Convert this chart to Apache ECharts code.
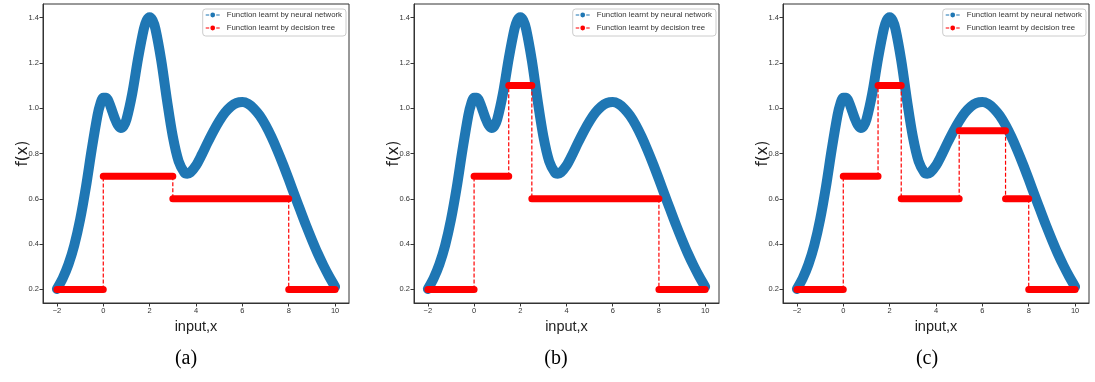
<!DOCTYPE html>
<html>
<head>
<meta charset="utf-8">
<script src="https://cdn.jsdelivr.net/npm/echarts@6/dist/echarts.min.js"></script>
<style>html,body{margin:0;padding:0;background:#fff;}#chart{width:1095px;height:382px;}</style>
</head>
<body>
<div id="chart"></div>
<script>
// ---- data ----
const xs = [-2,-1.75,-1.5,-1.25,-1,-0.75,-0.5,-0.25,-0.125,0,0.125,0.25,0.375,0.5,0.625,0.75,0.875,1,1.25,1.5,1.75,1.875,2,2.125,2.25,2.5,2.75,3,3.25,3.5,3.625,3.75,4,4.25,4.5,4.75,5,5.25,5.5,5.75,6,6.25,6.5,6.75,7,7.25,7.5,7.75,8,8.25,8.5,8.75,9,9.25,9.5,9.75,10];
const nnValues = [0.202,0.249,0.311,0.395,0.508,0.651,0.817,0.968,1.019,1.046,1.046,1.025,0.990,0.954,0.926,0.913,0.921,0.950,1.065,1.219,1.350,1.388,1.402,1.388,1.350,1.211,1.034,0.875,0.766,0.716,0.711,0.716,0.747,0.795,0.848,0.898,0.943,0.980,1.007,1.023,1.027,1.019,0.998,0.967,0.925,0.874,0.816,0.753,0.686,0.617,0.549,0.482,0.419,0.359,0.305,0.256,0.212];

const treeAEdges = [-2,0,3,8,10];
const treeALevels = [0.2,0.7,0.6,0.2];
const treeBEdges = [-2,0,1.5,2.5,8,10];
const treeBLevels = [0.2,0.7,1.1,0.6,0.2];
const treeCEdges = [-2,0,1.5,2.5,5,7,8,10];
const treeCLevels = [0.2,0.7,1.1,0.6,0.9,0.6,0.2];

const xTicks = [-2,0,2,4,6,8,10];
const yTicks = [0.2,0.4,0.6,0.8,1.0,1.2,1.4];
const captions = ['(a)','(b)','(c)'];

const NN = 'Function learnt by neural network';
const DT = 'Function learnt by decision tree';

// ---- layout ----
const grids = [
  {left:43, top:4, width:306, height:299},
  {left:414, top:4, width:305, height:299},
  {left:783, top:4, width:306, height:299}
];
const legendRights = [749, 379, 9];
const captionX = [186, 556, 927];
const trees = [[treeAEdges,treeALevels],[treeBEdges,treeBLevels],[treeCEdges,treeCLevels]];

const BLUE = '#1f77b4';
const RED = '#ff0000';
const iconPath = 'path://M0,3.2H5V4.8H0Z M6.6,4A3.4,3.4 0 1,1 13.4,4A3.4,3.4 0 1,1 6.6,4Z M15,3.2H20V4.8H15Z';

function horizData(edges, levels){
  const d = [];
  for (let i=0;i<levels.length;i++){
    d.push([edges[i], levels[i]]);
    d.push([edges[i+1], levels[i]]);
    d.push([edges[i+1], '-']);
  }
  return d;
}
function vertData(edges, levels){
  const d = [];
  for (let i=1;i<levels.length;i++){
    d.push([edges[i], levels[i-1]]);
    d.push([edges[i], levels[i]]);
    d.push([edges[i], '-']);
  }
  return d;
}
const nnData = xs.map((x,i)=>[x, nnValues[i]]);

const option = {
  animation:false,
  backgroundColor:'#fff',
  grid: grids.map(g=>Object.assign({show:true, borderColor:'#333', borderWidth:1, backgroundColor:'transparent'}, g)),
  xAxis: grids.map((g,i)=>({
    type:'value', gridIndex:i, min:-2.6, max:10.6,
    name:'input,x', nameLocation:'middle', nameGap:16, nameMoveOverlap:false,
    nameTextStyle:{fontSize:14.5, fontFamily:'Liberation Sans', color:'#222'},
    axisLine:{show:true, onZero:false, lineStyle:{color:'#333', width:1}},
    axisTick:{show:true, length:3.5, customValues:xTicks, lineStyle:{color:'#333'}},
    axisLabel:{customValues:xTicks, fontSize:7.5, fontFamily:'Liberation Sans', color:'#333', margin:4,
      formatter:v=> v<0 ? '\u2212'+Math.abs(v) : String(v)},
    splitLine:{show:false}
  })),
  yAxis: grids.map((g,i)=>({
    type:'value', gridIndex:i, min:0.14, max:1.46,
    name:'f(x)', nameLocation:'middle', nameGap:12, nameMoveOverlap:false,
    nameTextStyle:{fontSize:15, fontFamily:'DejaVu Sans', color:'#222'},
    axisLine:{show:true, onZero:false, lineStyle:{color:'#333', width:1}},
    axisTick:{show:true, length:3.5, customValues:yTicks, lineStyle:{color:'#333'}},
    axisLabel:{customValues:yTicks, fontSize:7.5, fontFamily:'Liberation Sans', color:'#333', margin:4,
      formatter:v=> Number(v).toFixed(1)},
    splitLine:{show:false}
  })),
  legend: grids.map((g,i)=>({
    orient:'vertical', right:legendRights[i], top:9, align:'left',
    padding:[2,4,4,3], itemGap:5, itemWidth:14, itemHeight:6,
    backgroundColor:'#fff', borderColor:'#cccccc', borderWidth:1, borderRadius:3,
    selectedMode:false,
    textStyle:{fontSize:7.8, fontFamily:'Liberation Sans', color:'#333', padding:[0,0,0,2]},
    data:[
      {name:NN, icon:iconPath, itemStyle:{color:BLUE, borderWidth:0}},
      {name:DT, icon:iconPath, itemStyle:{color:RED, borderWidth:0}}
    ]
  })),
  graphic: captions.map((c,i)=>({
    type:'text', x:captionX[i], y:359,
    style:{text:c, font:'20px "Liberation Serif"', fill:'#000', align:'center', verticalAlign:'middle'}
  })),
  series: []
};

grids.forEach((g,i)=>{
  option.series.push({
    type:'line', name:NN, xAxisIndex:i, yAxisIndex:i, data:nnData,
    smooth:0.3, showSymbol:false, z:2,
    lineStyle:{color:BLUE, width:10, cap:'round', join:'round'},
    itemStyle:{color:BLUE}
  });
  option.series.push({
    type:'line', name:'split'+i, xAxisIndex:i, yAxisIndex:i, data:vertData(trees[i][0], trees[i][1]),
    showSymbol:false, z:3, connectNulls:false,
    lineStyle:{color:RED, width:1.2, type:[4,2]},
    itemStyle:{color:RED}
  });
  option.series.push({
    type:'line', name:DT, xAxisIndex:i, yAxisIndex:i, data:horizData(trees[i][0], trees[i][1]),
    showSymbol:false, z:4, connectNulls:false,
    lineStyle:{color:RED, width:7, cap:'round'},
    itemStyle:{color:RED}
  });
});

const chart = echarts.init(document.getElementById('chart'), null, {renderer:'canvas'});
chart.setOption(option);
</script>
</body>
</html>
